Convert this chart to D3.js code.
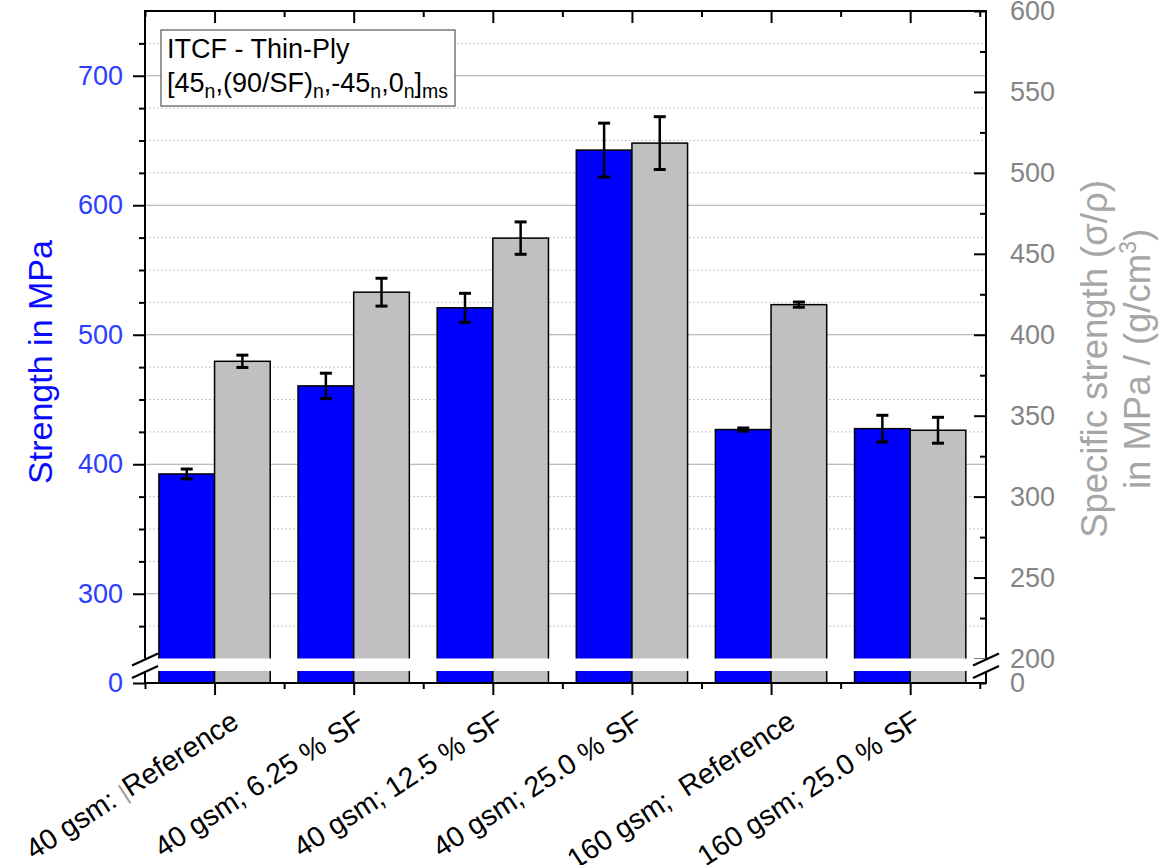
<!DOCTYPE html>
<html>
<head>
<meta charset="utf-8">
<script src="https://cdn.jsdelivr.net/npm/d3@7"></script>
<style>
  html, body { margin: 0; padding: 0; background: #fff; }
  svg { display: block; font-family: "Liberation Sans", Arial, sans-serif; }
</style>
</head>
<body>
<svg id="chart" width="1167" height="865"></svg>
<script>
// ---------- data ----------
const categories = ["40 gsm: |Reference", "40 gsm; 6.25 % SF", "40 gsm; 12.5 % SF",
                    "40 gsm; 25.0 % SF", "160 gsm;  Reference", "160 gsm; 25.0 % SF"];
const strength    = [392.5, 460.5, 520.8, 642.6, 426.8, 427.5];   // MPa (left axis)
const strengthErr = [3.8, 9.8, 11.2, 20.8, 1.2, 10.3];
const specific    = [383.6, 426.3, 459.7, 518.4, 418.6, 341.0];    // MPa/(g/cm3) (right axis)
const specificErr = [3.8, 8.6, 10.0, 16.3, 1.6, 8.0];
const leftMajor  = [300, 400, 500, 600, 700];
const leftMinor  = [275, 325, 350, 375, 425, 450, 475, 525, 550, 575, 625, 650, 675, 725];
const rightMajor = [200, 250, 300, 350, 400, 450, 500, 550, 600];
const rightMinor = [225, 275, 325, 375, 425, 475, 525, 575];
const catPos = [1, 2, 3, 4, 5, 6];
const halfPos = [0.5, 1.5, 2.5, 3.5, 4.5, 5.5, 6.5];

// ---------- layout ----------
const svg = d3.select("#chart");
const X0 = 145, X1 = 986, Ytop = 11, Ybot = 683, Ybreak = 658.5, YbreakLow = 671;
const FONT = 27;

const x = d3.scaleLinear().domain([0.5, 6.545]).range([X0, X1]);
const yL = d3.scaleLinear().domain([250, 750]).range([Ybreak, Ytop]);
const yLlow = d3.scaleLinear().domain([0, 50]).range([Ybot, YbreakLow]);
const yR = d3.scaleLinear().domain([200, 600]).range([Ybreak, Ytop]);
const yRlow = d3.scaleLinear().domain([0, 50]).range([Ybot, YbreakLow]);
const barW = x(1.4) - x(1);

// ---------- grid ----------
const grid = svg.append("g");
grid.selectAll("line.minor").data(leftMinor).join("line")
  .attr("x1", X0).attr("x2", X1).attr("y1", d => yL(d)).attr("y2", d => yL(d))
  .attr("stroke", "#c4c4c4").attr("stroke-width", 1).attr("stroke-dasharray", "2,2");
grid.selectAll("line.major").data(leftMajor).join("line")
  .attr("x1", X0).attr("x2", X1).attr("y1", d => yL(d)).attr("y2", d => yL(d))
  .attr("stroke", "#a8a8a8").attr("stroke-width", 1);

// ---------- bars ----------
const bars = svg.append("g");
bars.selectAll("rect.s").data(strength).join("rect")
  .attr("x", (d, i) => x(catPos[i]) - barW).attr("width", barW)
  .attr("y", d => yL(d)).attr("height", d => yLlow(0) - yL(d))
  .attr("fill", "#0000ff").attr("stroke", "#000").attr("stroke-width", 1.5);
bars.selectAll("rect.g").data(specific).join("rect")
  .attr("x", (d, i) => x(catPos[i])).attr("width", barW)
  .attr("y", d => yR(d)).attr("height", d => yRlow(0) - yR(d))
  .attr("fill", "#c0c0c0").attr("stroke", "#000").attr("stroke-width", 1.5);

// ---------- error bars ----------
function errorBars(vals, errs, yS, offset) {
  const g = svg.append("g").attr("stroke", "#000").attr("stroke-width", 2.5);
  vals.forEach((v, i) => {
    const cx = x(catPos[i]) + offset;
    g.append("line").attr("x1", cx).attr("x2", cx).attr("y1", yS(v + errs[i])).attr("y2", yS(v - errs[i]));
    g.append("line").attr("x1", cx - 6).attr("x2", cx + 6).attr("y1", yS(v + errs[i])).attr("y2", yS(v + errs[i])).attr("stroke-width", 3);
    g.append("line").attr("x1", cx - 6).attr("x2", cx + 6).attr("y1", yS(v - errs[i])).attr("y2", yS(v - errs[i])).attr("stroke-width", 3);
  });
}
errorBars(strength, strengthErr, yL, -barW / 2);
errorBars(specific, specificErr, yR, barW / 2);

// ---------- axes ----------
function styleAxis(g, color) {
  g.select(".domain").remove();
  g.selectAll(".tick line").attr("stroke", "#000").attr("stroke-width", 2);
  g.selectAll(".tick text").attr("font-size", FONT).attr("fill", color)
    .attr("font-family", "Liberation Sans, Arial, sans-serif");
}
const blueTick = "#2e3dff", grayTick = "#858585";
// left
svg.append("g").attr("transform", `translate(${X0},0)`)
  .call(d3.axisLeft(yL).tickValues(leftMajor).tickSize(12).tickPadding(10).tickFormat(d3.format("d")))
  .call(g => styleAxis(g, blueTick));
svg.append("g").attr("transform", `translate(${X0},0)`)
  .call(d3.axisLeft(yL).tickValues(leftMinor).tickSize(6).tickFormat(""))
  .call(g => styleAxis(g, blueTick));
svg.append("g").attr("transform", `translate(${X0},0)`)
  .call(d3.axisLeft(yLlow).tickValues([0]).tickSize(12).tickPadding(10).tickFormat(d3.format("d")))
  .call(g => styleAxis(g, blueTick));
// right
svg.append("g").attr("transform", `translate(${X1},0)`)
  .call(d3.axisRight(yR).tickValues(rightMajor).tickSize(-12).tickPadding(24).tickFormat(d3.format("d")))
  .call(g => styleAxis(g, grayTick));
svg.append("g").attr("transform", `translate(${X1},0)`)
  .call(d3.axisRight(yR).tickValues(rightMinor).tickSize(-6).tickFormat(""))
  .call(g => styleAxis(g, grayTick));
svg.append("g").attr("transform", `translate(${X1},0)`)
  .call(d3.axisRight(yRlow).tickValues([0]).tickSize(-6).tickPadding(24).tickFormat(d3.format("d")))
  .call(g => styleAxis(g, grayTick));
// top
svg.append("g").attr("transform", `translate(0,${Ytop})`)
  .call(d3.axisTop(x).tickValues(catPos).tickSize(-12).tickFormat(""))
  .call(g => styleAxis(g, "#000"));
svg.append("g").attr("transform", `translate(0,${Ytop})`)
  .call(d3.axisTop(x).tickValues(halfPos).tickSize(-6).tickFormat(""))
  .call(g => styleAxis(g, "#000"));
// bottom
svg.append("g").attr("transform", `translate(0,${Ybot})`)
  .call(d3.axisBottom(x).tickValues(catPos).tickSize(12).tickFormat(""))
  .call(g => styleAxis(g, "#000"));
svg.append("g").attr("transform", `translate(0,${Ybot})`)
  .call(d3.axisBottom(x).tickValues(halfPos).tickSize(6).tickFormat(""))
  .call(g => styleAxis(g, "#000"));

// frame
svg.append("rect").attr("x", X0).attr("y", Ytop).attr("width", X1 - X0).attr("height", Ybot - Ytop)
  .attr("fill", "none").attr("stroke", "#000").attr("stroke-width", 2);

// ---------- axis break ----------
svg.append("rect").attr("x", X0 - 3).attr("y", Ybreak).attr("width", X1 - X0 + 6).attr("height", YbreakLow - Ybreak)
  .attr("fill", "#fff");
const brk = svg.append("g").attr("stroke", "#000").attr("stroke-width", 2.2);
[X0, X1].forEach(bx => {
  [Ybreak + 1, YbreakLow + 1].forEach(by => {
    brk.append("line").attr("x1", bx - 13).attr("y1", by + 6).attr("x2", bx + 13).attr("y2", by - 6);
  });
});

// ---------- category labels ----------
const LFONT = 28.5;
const lab = svg.append("g").attr("font-size", LFONT).attr("fill", "#000");
categories.forEach((c, i) => {
  const isRef = c.includes("Reference");
  const t = lab.append("text")
    .attr("text-anchor", "end")
    .attr("style", "white-space: pre")
    .attr("transform", `translate(${x(catPos[i]) + (isRef ? 26 : 12)},${Ybot + 43}) rotate(-33)`);
  if (c.includes("|")) {
    const parts = c.split("|");
    t.append("tspan").text(parts[0]);
    t.append("tspan").attr("fill", "#9a9a9a").attr("font-size", LFONT * 0.8).text("|");
    t.append("tspan").text(parts[1]);
  } else {
    t.text(c);
  }
});

// ---------- axis titles ----------
svg.append("text").attr("transform", `translate(52,362) rotate(-90)`)
  .attr("text-anchor", "middle").attr("font-size", 34).attr("fill", "#0a0aff")
  .text("Strength in MPa");
const rt = svg.append("text").attr("transform", `translate(1107,359) rotate(-90)`)
  .attr("text-anchor", "middle").attr("font-size", 36.5).attr("fill", "#a6a6a6");
rt.append("tspan").attr("x", 0).attr("dy", 0).text("Specific strength (σ/ρ)");
const l2 = rt.append("tspan").attr("x", 0).attr("dy", 43);
l2.append("tspan").text("in MPa / (g/cm");
l2.append("tspan").attr("font-size", 23).attr("dy", -14).text("3");
l2.append("tspan").attr("dy", 14).text(")");

// ---------- legend box ----------
const lg = svg.append("g");
lg.append("rect").attr("x", 161).attr("y", 30).attr("width", 294).attr("height", 76)
  .attr("fill", "#fff").attr("stroke", "#333").attr("stroke-width", 1);
lg.append("text").attr("x", 167).attr("y", 58).attr("font-size", FONT).text("ITCF - Thin-Ply");
const lt = lg.append("text").attr("x", 167).attr("y", 92).attr("font-size", FONT);
const seg = [["[45", "n"], [",(90/SF)", "n"], [",-45", "n"], [",0", "n"], ["]", "ms"]];
seg.forEach(([m, s], k) => {
  lt.append("tspan").attr("font-size", FONT).attr("dy", k === 0 ? 0 : -6).text(m);
  lt.append("tspan").attr("font-size", 19.5).attr("dy", 6).text(s);
});
</script>
</body>
</html>
